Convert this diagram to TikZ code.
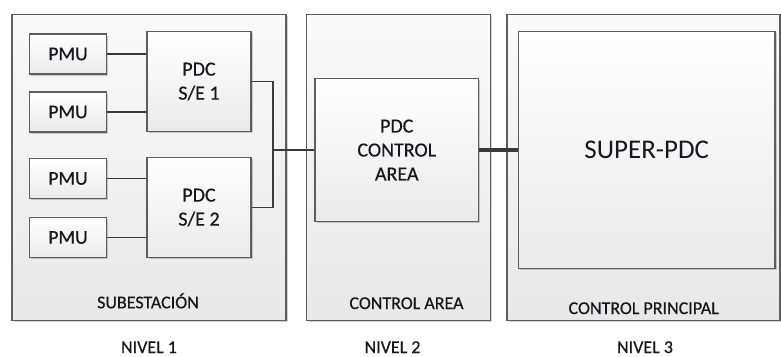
\documentclass[tikz,border=0pt]{standalone}
\usepackage{fontspec}
\setmainfont{Carlito}
\newfontfamily\heavy{Carlito}[FakeBold=0.45]
\usetikzlibrary{shadows}
\definecolor{edge}{HTML}{5E5E5E}
\definecolor{wire}{HTML}{3A3A3A}
\definecolor{ink}{HTML}{15171F}
\tikzset{
  base/.style={draw=edge, line width=1.3pt, rectangle, inner sep=0pt,
    top color=white, bottom color=black!8, text=ink,
    drop shadow={shadow xshift=1.6pt, shadow yshift=-1.6pt, fill=black, opacity=0.18}},
  zone/.style={base, top color=black!2, bottom color=black!9},
  unit/.style={base, align=center, font=\heavy\fontsize{20}{24}\selectfont},
  small/.style={font=\heavy\fontsize{19.5}{24}\selectfont},
  caption/.style={text=ink, font=\heavy\fontsize{18}{22}\selectfont, anchor=base, inner sep=0pt},
  link/.style={draw=wire, line width=1.1pt},
  trunk/.style={draw=wire, line width=4.5pt}
}
\begin{document}
\begin{tikzpicture}[x=1pt, y=-1pt]
\useasboundingbox (0,0) rectangle (781,356);

% level zones
\node[zone, minimum width=274pt, minimum height=306pt] (z1) at (149,167.5) {};
\node[zone, minimum width=184pt, minimum height=306pt] (z2) at (398.5,167.5) {};
\node[zone, minimum width=273pt, minimum height=306pt] (z3) at (643.5,167.5) {};

% measurement units
\node[unit, small, minimum width=77pt, minimum height=40pt] (p1) at (68,54) {PMU};
\node[unit, small, minimum width=77pt, minimum height=40pt] (p2) at (68,112) {PMU};
\node[unit, small, minimum width=77pt, minimum height=40pt] (p3) at (68,178.5) {PMU};
\node[unit, small, minimum width=77pt, minimum height=40pt] (p4) at (68,237.5) {PMU};

% substation concentrators
\node[unit, minimum width=104pt, minimum height=100pt] (d1) at (199,81.5) {PDC\\S/E 1};
\node[unit, minimum width=104pt, minimum height=100pt] (d2) at (199,207.5) {PDC\\S/E 2};

% control area concentrator
\node[unit, minimum width=163.5pt, minimum height=143pt] (ca) at (396.75,150) {PDC\\CONTROL\\AREA};

% main concentrator
\node[unit, minimum width=256.5pt, minimum height=237pt, font=\rmfamily\fontsize{27}{32}\selectfont] (sp) at (646.75,150) {SUPER-PDC};

% connections
\draw[link] (p1.east) -- (p1.east -| d1.west);
\draw[link] (p2.east) -- (p2.east -| d1.west);
\draw[link] (p3.east) -- (p3.east -| d2.west);
\draw[link] (p4.east) -- (p4.east -| d2.west);
\coordinate (bus) at (273,150);
\draw[link] (d1.east) -| (bus) |- (d2.east);
\draw[link] (bus) -- (ca.west);
\draw[trunk] (ca.east) -- (sp.west);

% zone captions
\node[caption] (c1) at (148,308.3) {SUBESTACIÓN};
\node[caption] (c2) at (406.5,309) {CONTROL AREA};
\node[caption] (c3) at (643.7,314) {CONTROL PRINCIPAL};

% level captions
\node[caption] (n1) at (149,353) {NIVEL 1};
\node[caption] (n2) at (392.5,353) {NIVEL 2};
\node[caption] (n3) at (645,353) {NIVEL 3};
\end{tikzpicture}
\end{document}
